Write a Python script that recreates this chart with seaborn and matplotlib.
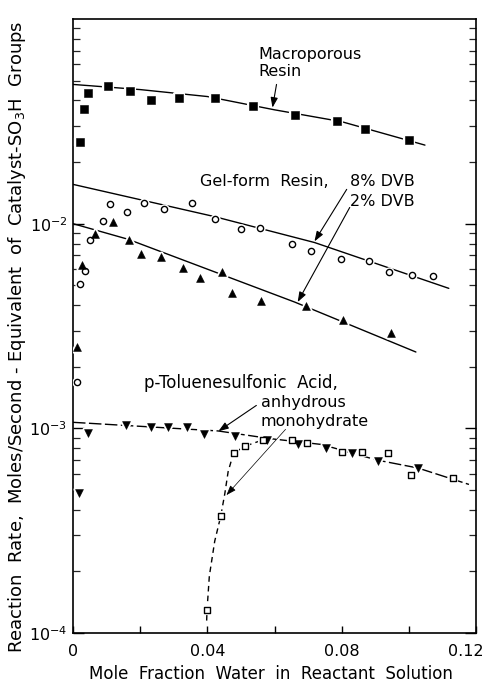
import matplotlib
matplotlib.use("Agg")
import matplotlib.pyplot as plt
import matplotlib.transforms as mtransforms
import seaborn as sns
import numpy as np
from matplotlib.ticker import FixedLocator, FixedFormatter, NullFormatter

# ---------------- data ----------------
macro_x = [0.0021, 0.0034, 0.0046, 0.0104, 0.017, 0.0233, 0.0316, 0.0424, 0.0537, 0.066, 0.0785, 0.0869, 0.100]
macro_y = [0.0251, 0.0364, 0.0437, 0.0468, 0.0447, 0.0404, 0.0413, 0.0413, 0.0377, 0.0340, 0.0318, 0.0290, 0.0256]
macro_fit_x = [0.0, 0.02, 0.04, 0.06, 0.08, 0.1048]
macro_fit_y = [0.0479, 0.0452, 0.0418, 0.0360, 0.0315, 0.0242]

gel8_x = [0.0012, 0.0021, 0.0036, 0.0051, 0.0090, 0.0110, 0.0161, 0.0212, 0.0272, 0.0355,
          0.0424, 0.0501, 0.0558, 0.0651, 0.0710, 0.0797, 0.0881, 0.0940, 0.1009, 0.1072]
gel8_y = [0.00168, 0.00506, 0.00589, 0.00829, 0.01035, 0.01242, 0.01145, 0.01256, 0.01186, 0.01256,
          0.01059, 0.00943, 0.00954, 0.00800, 0.00736, 0.00671, 0.00655, 0.00582, 0.00562, 0.00556]
gel8_fit_x = [0.0, 0.0421, 0.0719, 0.1119]
gel8_fit_y = [0.01556, 0.01083, 0.00809, 0.00483]

gel2_x = [0.0011, 0.0026, 0.0065, 0.0120, 0.0168, 0.0203, 0.0263, 0.0327, 0.0377, 0.0445,
          0.0473, 0.0561, 0.0693, 0.0803, 0.0946]
gel2_y = [0.00250, 0.00625, 0.00889, 0.01023, 0.00829, 0.00711, 0.00687, 0.00610, 0.00543, 0.00582,
          0.00460, 0.00419, 0.00395, 0.00340, 0.00291]
gel2_fit_x = [0.0, 0.0164, 0.0660, 0.1021]
gel2_fit_y = [0.0100, 0.00839, 0.00414, 0.00236]

anhyd_x = [0.0019, 0.0044, 0.0158, 0.0233, 0.0284, 0.0339, 0.0390, 0.0481, 0.0579, 0.0670,
           0.0752, 0.0832, 0.0907, 0.1027]
anhyd_y = [0.000483, 0.000948, 0.001036, 0.00101, 0.00101, 0.00102, 0.000938, 0.000918, 0.000880, 0.000843,
           0.000799, 0.000757, 0.000695, 0.000638]
anhyd_fit_x = [0.0, 0.0432, 0.0591, 0.0740, 0.0905, 0.1027, 0.1179]
anhyd_fit_y = [0.00107, 0.000971, 0.000889, 0.000834, 0.000700, 0.000640, 0.000532]

mono_x = [0.0399, 0.0440, 0.0478, 0.0513, 0.0566, 0.0652, 0.0696, 0.0800, 0.0860, 0.0937, 0.1007, 0.1133]
mono_y = [0.000129, 0.000373, 0.000757, 0.000816, 0.000875, 0.000877, 0.000849, 0.000768, 0.000768,
          0.000755, 0.000593, 0.000573]
mono_fit_x = [0.0398, 0.0399, 0.0406, 0.0422, 0.0440, 0.0452, 0.0462, 0.0478, 0.0513, 0.0561]
mono_fit_y = [0.000115, 0.000129, 0.000190, 0.000281, 0.000373, 0.000479, 0.000615, 0.000757, 0.000819, 0.000873]

x_ticks = [0.0, 0.04, 0.08, 0.12]
x_tick_labels = ["0", "0.04", "0.08", "0.12"]
x_minor = [0.02, 0.06, 0.10]
y_ticks = [1e-4, 1e-3, 1e-2]
y_tick_labels = [r"$10^{-4}$", r"$10^{-3}$", r"$10^{-2}$"]

# ---------------- style ----------------
sns.set_theme(style="ticks")
plt.rcParams["font.family"] = ["DejaVu Sans"]
plt.rcParams["mathtext.fontset"] = "dejavusans"
plt.rcParams["text.color"] = "black"
plt.rcParams["axes.labelcolor"] = "black"

fig = plt.figure(figsize=(4.84, 6.85), dpi=100)
ax = fig.add_axes([73 / 484, 1 - 633 / 685, (476 - 73) / 484, (633 - 19) / 685])
ax.set_yscale("log")

FS = 11.5
lw = 1.0

# fitted lines
sns.lineplot(x=macro_fit_x, y=macro_fit_y, color="black", lw=lw, ax=ax, zorder=2, sort=False)
sns.lineplot(x=gel8_fit_x, y=gel8_fit_y, color="black", lw=lw, ax=ax, zorder=2, sort=False)
sns.lineplot(x=gel2_fit_x, y=gel2_fit_y, color="black", lw=lw, ax=ax, zorder=2, sort=False)
sns.lineplot(x=anhyd_fit_x, y=anhyd_fit_y, color="black", lw=lw, ax=ax, zorder=2, sort=False)
ax.lines[-1].set_dashes([9, 2.5])
sns.lineplot(x=mono_fit_x, y=mono_fit_y, color="black", lw=lw, ax=ax, zorder=2, sort=False)
ax.lines[-1].set_dashes([4, 3])


def pts(x, y, marker, s, filled):
    # white halo to break lines around the markers
    sns.scatterplot(x=x, y=y, marker=marker, s=s, color="white", edgecolor="white",
                    linewidth=3.0, ax=ax, zorder=3, legend=False)
    if filled:
        sns.scatterplot(x=x, y=y, marker=marker, s=s, color="black", edgecolor="black",
                        linewidth=0.4, ax=ax, zorder=4, legend=False)
    else:
        sns.scatterplot(x=x, y=y, marker=marker, s=s, color="white", edgecolor="black",
                        linewidth=1.0, ax=ax, zorder=4, legend=False)


pts(macro_x, macro_y, "s", 26, True)
pts(gel8_x, gel8_y, "o", 20, False)
pts(gel2_x, gel2_y, "^", 32, True)
pts(anhyd_x, anhyd_y, "v", 32, True)
pts(mono_x, mono_y, "s", 20, False)

# axes
ax.set_xlim(0, 0.12)
ax.set_ylim(1e-4, 1e-1)
ax.xaxis.set_major_locator(FixedLocator(x_ticks))
ax.xaxis.set_major_formatter(FixedFormatter(x_tick_labels))
ax.xaxis.set_minor_locator(FixedLocator(x_minor))
ax.yaxis.set_major_locator(FixedLocator(y_ticks))
ax.yaxis.set_major_formatter(FixedFormatter(y_tick_labels))
minor_y = [m * 10.0 ** e for e in (-4, -3, -2) for m in range(2, 10)]
ax.yaxis.set_minor_locator(FixedLocator(minor_y))
ax.yaxis.set_minor_formatter(NullFormatter())

for sp in ax.spines.values():
    sp.set_visible(True)
    sp.set_color("black")
    sp.set_linewidth(1.2)

ax.tick_params(axis="x", which="both", direction="in", length=5, width=1.0, top=False,
               labelsize=FS, pad=8, colors="black")
ax.tick_params(axis="y", which="major", direction="in", length=8, width=1.0, right=True,
               labelsize=FS, pad=4, colors="black")
ax.tick_params(axis="y", which="minor", direction="in", length=5, width=0.9, right=True)

# shift the last x tick label left so it stays inside the figure
last = ax.get_xticklabels()[-1]
last.set_transform(last.get_transform() + mtransforms.ScaledTranslation(-10 / 100, 0, fig.dpi_scale_trans))

ax.set_xlabel("Mole  Fraction  Water  in  Reactant  Solution", fontsize=12, color="black")
ax.set_ylabel(r"Reaction  Rate,  Moles/Second - Equivalent  of  Catalyst-SO$_3$H  Groups",
              fontsize=13, color="black")
ax.xaxis.set_label_coords(0.49, -0.052)
ax.yaxis.set_label_coords(-0.112, 0.482)

# annotations
ax.text(0.0552, 0.0728, "Macroporous\nResin", fontsize=FS, ha="left", va="top", linespacing=1.15, color="black")
ax.text(0.0379, 0.0161, "Gel-form  Resin,", fontsize=FS, ha="left", va="center", color="black")
ax.text(0.0826, 0.0161, "8% DVB", fontsize=FS, ha="left", va="center", color="black")
ax.text(0.0826, 0.01282, "2% DVB", fontsize=FS, ha="left", va="center", color="black")
ax.text(0.0212, 0.001656, "p-Toluenesulfonic  Acid,", fontsize=12, ha="left", va="center", color="black")
ax.text(0.0561, 0.001343, "anhydrous", fontsize=FS, ha="left", va="center", color="black")
ax.text(0.0558, 0.001074, "monohydrate", fontsize=FS, ha="left", va="center", color="black")

arrow = dict(arrowstyle="-|>,head_length=0.5,head_width=0.18", color="black", lw=0.8,
             shrinkA=0, shrinkB=0)
ax.annotate("", xy=(0.0594, 0.0369), xytext=(0.0606, 0.0479), arrowprops=arrow)
ax.annotate("", xy=(0.0719, 0.00819), xytext=(0.0815, 0.01471), arrowprops=arrow)
ax.annotate("", xy=(0.0669, 0.00414), xytext=(0.0824, 0.0120), arrowprops=arrow)
ax.annotate("", xy=(0.0433, 0.000968), xytext=(0.0546, 0.001294), arrowprops=arrow)
thin = dict(arrow)
thin["lw"] = 0.5
ax.annotate("", xy=(0.0457, 0.000472), xytext=(0.0633, 0.000989), arrowprops=thin)

fig.savefig("out.png", dpi=100)
